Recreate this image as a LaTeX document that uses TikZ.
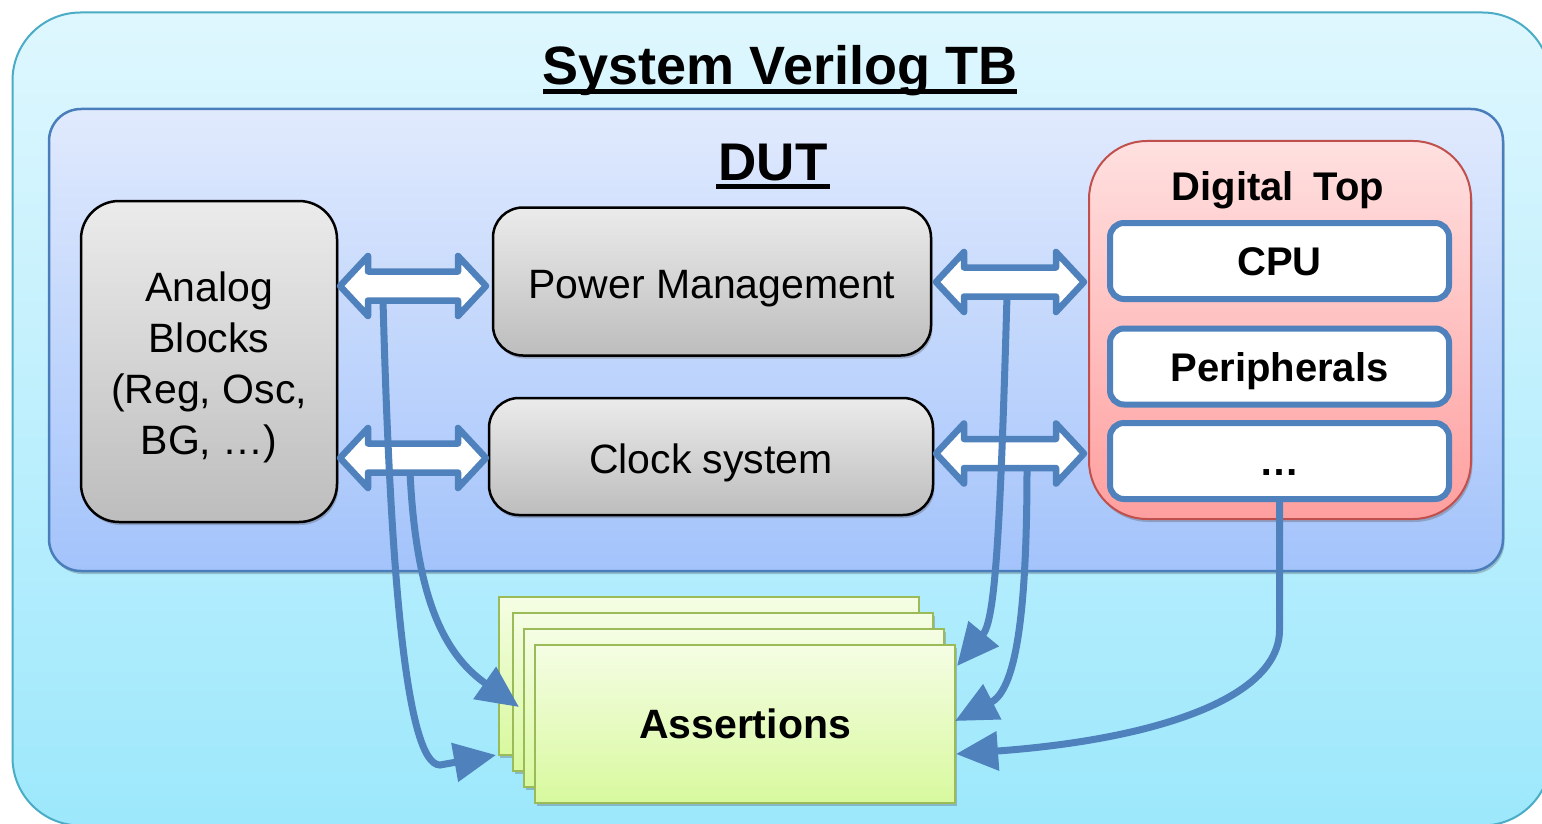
\documentclass[tikz,border=0pt]{standalone}
\usepackage{fontspec}
\setmainfont{Liberation Sans}
\usetikzlibrary{arrows.meta,shadows}

\definecolor{lineblue}{HTML}{4F81BD}
\definecolor{tbTop}{HTML}{DFF7FE}
\definecolor{tbBot}{HTML}{9DE8FC}
\definecolor{tbEdge}{HTML}{4BACC6}
\definecolor{dutTop}{HTML}{E1EAFD}
\definecolor{dutBot}{HTML}{A3C3FB}
\definecolor{dutEdge}{HTML}{4A7EBB}
\definecolor{grayTop}{HTML}{EBEBEB}
\definecolor{grayBot}{HTML}{BDBDBD}
\definecolor{redTop}{HTML}{FFE0E0}
\definecolor{redBot}{HTML}{FF9F9F}
\definecolor{redEdge}{HTML}{C0504D}
\definecolor{cardTop}{HTML}{F5FDE4}
\definecolor{cardBot}{HTML}{D8F99E}
\definecolor{cardEdge}{HTML}{9BBB59}

% double-headed hollow arrow: name, left tip x, right tip x, centre y
\newcommand\dblarrow[4]{%
  \draw[hollowarrow] (#2,#4) coordinate (#1)
    -- ++(28,-30) -- ++(0,15.5) -- ++({#3-#2-56},0) -- ++(0,-15.5)
    -- ++(28,30) -- ++(-28,30) -- ++(0,-15.5) -- ++({-(#3-#2-56)},0)
    -- ++(0,15.5) -- cycle;}

\begin{document}
\begin{tikzpicture}[x=1pt,y=-1pt,
  softshadow/.style={drop shadow={shadow xshift=1.5pt,shadow yshift=-3pt,opacity=0.3,fill=black!70}},
  tbbox/.style={draw=tbEdge,line width=2pt,rounded corners=68pt,top color=tbTop,bottom color=tbBot},
  dutbox/.style={draw=dutEdge,line width=2.5pt,rounded corners=32pt,top color=dutTop,bottom color=dutBot,softshadow},
  graybox/.style={draw=black,line width=2.5pt,rounded corners=#1,top color=grayTop,bottom color=grayBot,softshadow,
    font=\fontsize{41}{51}\selectfont,align=center},
  graybox/.default=30pt,
  redbox/.style={draw=redEdge,line width=2pt,rounded corners=58pt,top color=redTop,bottom color=redBot,softshadow},
  whitebox/.style={draw=lineblue,line width=6pt,fill=white,rounded corners=14pt,
    minimum width=339pt,minimum height=76pt,font=\bfseries\fontsize{40}{48}\selectfont,
    text height=29pt,text depth=0pt},
  card/.style={draw=cardEdge,line width=2pt,top color=cardTop,bottom color=cardBot,
    minimum width=420pt,minimum height=158pt,softshadow},
  hollowarrow/.style={draw=lineblue,line width=6.5pt,fill=white,line join=round},
  conn/.style={draw=lineblue,line width=7pt,-{Triangle[length=42pt,width=38pt]}},
  heading/.style={inner sep=0pt,anchor=base,font=\bfseries\fontsize{#1}{#1}\selectfont}
]
\useasboundingbox (0,0) rectangle (1542,824);
\clip (0,0) rectangle (1542,824);
\fill[white] (0,0) rectangle (1542,824);

% testbench and DUT frames
\node[tbbox,minimum width=1538pt,minimum height=813pt] (tb) at (781.5,419) {};
\node[heading=54] (tbtitle) at (780,85) {System Verilog TB};
\draw[line width=5pt] ([yshift=-7pt]tbtitle.base west) -- ([yshift=-7pt]tbtitle.base east);

\node[dutbox,minimum width=1454pt,minimum height=462pt] (dut) at (776,340) {};
\node[heading=53] (duttitle) at (773,180) {DUT};
\draw[line width=5pt] ([yshift=-6.5pt,xshift=-2pt]duttitle.base west) -- ([yshift=-6.5pt,xshift=2pt]duttitle.base east);

% analog and mixed blocks
\node[graybox=38pt,minimum width=256pt,minimum height=321pt] (analog) at (209,361.5) {};
\node[font=\fontsize{41}{51}\selectfont,align=center,inner sep=0pt] (analogtxt) at (209,367)
  {Analog\\Blocks\\(Reg, Osc,\\BG, …)};
\node[graybox,minimum width=438pt,minimum height=148pt,text height=37pt,text depth=4pt] (pm) at (712,281.5)
  {Power Management};
\node[graybox,minimum width=444pt,minimum height=117pt,text height=37pt,text depth=4pt] (clk) at (711,456.5)
  {Clock system};

% digital top
\node[redbox,minimum width=382pt,minimum height=378pt] (dtop) at (1280,330) {};
\node[heading=40] (dtitle) at (1278,200) {Digital\hspace{20pt}Top};
\node[whitebox] (cpu) at (1279.5,261) {CPU};
\node[whitebox] (per) at (1279.5,366.5) {Peripherals};
\node[whitebox] (etc) at (1279.5,461) {…};

% stack of assertion cards
\node[card] (as1) at (708.5,676) {};
\node[card] (as2) at (723,692) {};
\node[card] (as3) at (734,708) {};
\node[card,font=\bfseries\fontsize{41}{48}\selectfont] (as4) at (745,723.5) {Assertions};

% bidirectional links
\dblarrow{lpm}{340}{486}{286}
\dblarrow{lclk}{340}{486}{458}
\dblarrow{rpm}{936}{1084}{282}
\dblarrow{rclk}{936}{1084}{453.5}

% monitoring connections
\coordinate (s1) at (383,300.5);
\coordinate (s2) at (410,472);
\coordinate (s3) at (1007,296);
\coordinate (s4) at (1027,468);
\coordinate (t1) at (496,755);
\coordinate (t2) at (519,707);
\coordinate (t3) at (957,666);
\coordinate (t4) at (955,721);
\coordinate (t5) at (956,754);
\coordinate (k5) at (1279.5,630);

\draw[conn] (s1) .. controls (390,560) and (405,765) .. (440,765) -- (t1);
\draw[conn] (s2) .. controls (416,600) and (445,655) .. (t2);
\draw[conn] (s3) .. controls (1000,540) and (995,620) .. (t3);
\draw[conn] (s4) .. controls (1027,620) and (1015,690) .. (t4);
\draw[conn] (etc.south) -- (k5) .. controls (1279.5,700) and (1150,740) .. (t5);
\end{tikzpicture}
\end{document}
